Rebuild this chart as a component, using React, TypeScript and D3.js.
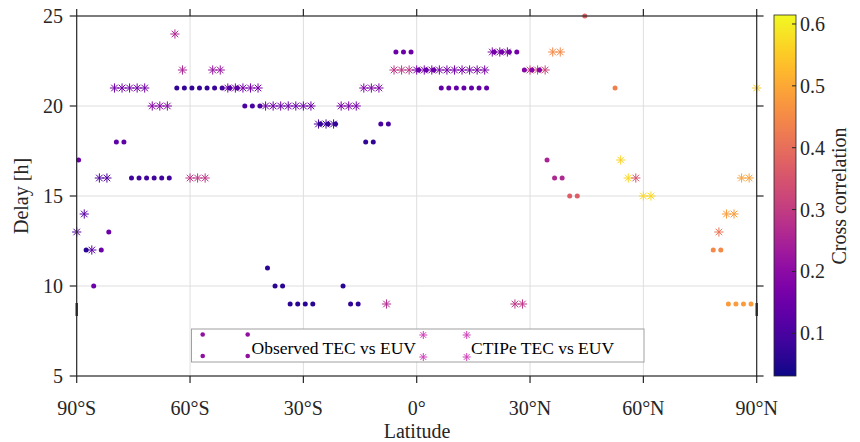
import React from "react";
import * as d3 from "d3";

// Observed TEC vs EUV (dots)
const obsLat = [-89.5, -87.5, -85.5, -83.5, -81.5, -79.5, -77.5,
  -75.5, -73.5, -71.5, -69.5, -67.5, -65.5,
  -63.5, -61.5, -59.5, -57.5, -55.5, -53.5, -51.5, -49.5, -47.5,
  -45.5, -43.5, -41.5, -39.5, -37.5, -35.5, -33.5, -31.5, -29.5, -27.5,
  -25.5, -23.5, -21.5, -19.5, -17.5, -15.5, -13.5, -11.5, -9.5, -7.5,
  -5.5, -3.5, -1.5, 0.5, 2.5, 4.5,
  6.5, 8.5, 10.5, 12.5, 14.5, 16.5, 18.5,
  20.5, 22.5, 24.5, 26.5, 28.5, 30.5, 32.5,
  34.5, 36.5, 38.5, 40.5, 42.5, 44.5, 52.5,
  78.5, 80.5, 82.5, 84.5, 86.5, 88.5];
const obsDelay = [17, 12, 10, 12, 13, 18, 18,
  16, 16, 16, 16, 16, 16,
  21, 21, 21, 21, 21, 21, 21, 21, 21,
  20, 20, 20, 11, 10, 10, 9, 9, 9, 9,
  19, 19, 19, 10, 9, 9, 18, 18, 19, 19,
  23, 23, 23, 22, 22, 22,
  21, 21, 21, 21, 21, 21, 21,
  23, 23, 23, 23, 22, 22, 22,
  17, 16, 16, 15, 15, 25, 21,
  12, 12, 9, 9, 9, 9];
const obsCorr = [0.15, 0.06, 0.15, 0.15, 0.15, 0.13, 0.13,
  0.09, 0.09, 0.09, 0.09, 0.09, 0.09,
  0.07, 0.07, 0.07, 0.07, 0.07, 0.08, 0.09, 0.11, 0.12,
  0.1, 0.1, 0.1, 0.06, 0.06, 0.06, 0.06, 0.06, 0.06, 0.06,
  0.07, 0.07, 0.07, 0.06, 0.07, 0.07, 0.07, 0.07, 0.1, 0.1,
  0.15, 0.15, 0.15, 0.15, 0.15, 0.15,
  0.14, 0.14, 0.14, 0.14, 0.14, 0.14, 0.14,
  0.16, 0.16, 0.16, 0.16, 0.19, 0.19, 0.19,
  0.25, 0.26, 0.26, 0.37, 0.37, 0.38, 0.43,
  0.45, 0.45, 0.48, 0.48, 0.48, 0.48];

// CTIPe TEC vs EUV (asterisks)
const ctiLat = [-90, -88, -86, -84, -82,
  -80, -78, -76, -74, -72, -70, -68, -66,
  -64, -62, -60, -58, -56, -54, -52,
  -50, -48, -46, -44, -42,
  -40, -38, -36, -34, -32, -30, -28,
  -26, -24, -22, -20, -18, -16, -14, -12, -10,
  -8, -6, -4, -2,
  0, 2, 4, 6, 8, 10, 12, 14, 16, 18,
  20, 22, 24, 26, 28, 30, 32, 34, 36, 38,
  54, 56, 58, 60, 62, 80, 82, 84, 86, 88, 90];
const ctiDelay = [13, 14, 12, 16, 16,
  21, 21, 21, 21, 21, 20, 20, 20,
  24, 22, 16, 16, 16, 22, 22,
  21, 21, 21, 21, 21,
  20, 20, 20, 20, 20, 20, 20,
  19, 19, 19, 20, 20, 20, 21, 21, 21,
  9, 22, 22, 22,
  22, 22, 22, 22, 22, 22, 22, 22, 22, 22,
  23, 23, 23, 9, 9, 22, 22, 22, 23, 23,
  17, 16, 16, 15, 15, 13, 14, 14, 16, 16, 21];
const ctiCorr = [0.12, 0.12, 0.12, 0.11, 0.11,
  0.16, 0.16, 0.16, 0.16, 0.16, 0.19, 0.19, 0.19,
  0.26, 0.25, 0.29, 0.29, 0.29, 0.22, 0.22,
  0.17, 0.17, 0.17, 0.17, 0.17,
  0.15, 0.15, 0.15, 0.15, 0.15, 0.15, 0.15,
  0.1, 0.1, 0.1, 0.17, 0.17, 0.17, 0.18, 0.18, 0.18,
  0.27, 0.29, 0.29, 0.29,
  0.17, 0.17, 0.17, 0.17, 0.17, 0.17, 0.17, 0.17, 0.17, 0.17,
  0.18, 0.18, 0.18, 0.29, 0.29, 0.32, 0.32, 0.32, 0.45, 0.45,
  0.56, 0.57, 0.35, 0.57, 0.57, 0.41, 0.48, 0.48, 0.49, 0.49, 0.55];

const xTicks = [-90, -60, -30, 0, 30, 60, 90];
const xTickLabels = ["90°S", "60°S", "30°S", "0°", "30°N", "60°N", "90°N"];
const yTicks = [5, 10, 15, 20, 25];
const cTicks = [0.1, 0.2, 0.3, 0.4, 0.5, 0.6];
const cDomain = [0.031, 0.6145];

const FONT = "Liberation Serif, Times New Roman, serif";

export default function App() {
  const x = d3.scaleLinear().domain([-90, 90]).range([76.7, 756.7]);
  const y = d3.scaleLinear().domain([5, 25]).range([376, 16]);
  const cy = d3.scaleLinear().domain(cDomain).range([376, 15]);
  const color = (v: number) =>
    d3.interpolatePlasma((v - cDomain[0]) / (cDomain[1] - cDomain[0]));

  const star = (cx: number, cyy: number, c: string, key: string, s = 4.6) => {
    const d = s * 0.7071;
    return (
      <g key={key} stroke={c} strokeWidth={1} fill="none">
        <line x1={cx - s} y1={cyy} x2={cx + s} y2={cyy} />
        <line x1={cx} y1={cyy - s} x2={cx} y2={cyy + s} />
        <line x1={cx - d} y1={cyy - d} x2={cx + d} y2={cyy + d} />
        <line x1={cx - d} y1={cyy + d} x2={cx + d} y2={cyy - d} />
      </g>
    );
  };

  const stops = d3.range(0, 1.0001, 0.05).map((t) => ({
    off: t,
    c: d3.interpolatePlasma(t),
  }));

  const L = 76.7, R = 756.7, T = 16, B = 376;

  return (
    <svg width={860} height={442} style={{ position: "absolute", left: 0, top: 0, background: "#fff" }}
      fontFamily={FONT}>
      <defs>
        <linearGradient id="cb" x1="0" y1="1" x2="0" y2="0">
          {stops.map((s, i) => (
            <stop key={i} offset={s.off} stopColor={s.c} />
          ))}
        </linearGradient>
      </defs>
      <rect x={0} y={0} width={860} height={442} fill="#fff" />
      {/* grid */}
      {xTicks.slice(1, -1).map((t) => (
        <line key={"gx" + t} x1={x(t)} x2={x(t)} y1={T} y2={B} stroke="#dedede" strokeWidth={1} />
      ))}
      {yTicks.slice(1, -1).map((t) => (
        <line key={"gy" + t} x1={L} x2={R} y1={y(t)} y2={y(t)} stroke="#dedede" strokeWidth={1} />
      ))}
      {/* CTIPe asterisks */}
      {ctiLat.map((lat, i) => star(x(lat), y(ctiDelay[i]), color(ctiCorr[i]), "c" + i))}
      {/* Observed dots */}
      {obsLat.map((lat, i) => (
        <circle key={"o" + i} cx={x(lat)} cy={y(obsDelay[i])} r={2.5} fill={color(obsCorr[i])} />
      ))}
      {/* axes box */}
      <rect x={L} y={T} width={R - L} height={B - T} fill="none" stroke="#262626" strokeWidth={1.2} />
      <line x1={L} x2={L} y1={303} y2={316} stroke="#262626" strokeWidth={2.4} />
      <line x1={R} x2={R} y1={303} y2={316} stroke="#262626" strokeWidth={2.4} />
      {xTicks.map((t) => (
        <g key={"xt" + t}>
          <line x1={x(t)} x2={x(t)} y1={B} y2={B + 7} stroke="#262626" strokeWidth={1.2} />
          <line x1={x(t)} x2={x(t)} y1={T} y2={T - 7} stroke="#262626" strokeWidth={1.2} />
        </g>
      ))}
      {yTicks.map((t) => (
        <g key={"yt" + t}>
          <line x1={L} x2={L - 7} y1={y(t)} y2={y(t)} stroke="#262626" strokeWidth={1.2} />
          <line x1={R} x2={R + 7} y1={y(t)} y2={y(t)} stroke="#262626" strokeWidth={1.2} />
        </g>
      ))}
      {xTicks.map((t, i) => (
        <text key={"xl" + t} x={x(t)} y={415} textAnchor="middle" fontSize={20} fill="#262626">
          {xTickLabels[i]}
        </text>
      ))}
      {yTicks.map((t) => (
        <text key={"yl" + t} x={63} y={y(t)} dy="0.35em" textAnchor="end" fontSize={20} fill="#262626">
          {t}
        </text>
      ))}
      <text x={417} y={438} textAnchor="middle" fontSize={20} fill="#262626">Latitude</text>
      <text transform={`translate(28,196) rotate(-90)`} textAnchor="middle" fontSize={20} fill="#262626">
        Delay [h]
      </text>
      {/* legend */}
      <rect x={191.5} y={329} width={452.5} height={33} fill="#fff" stroke="#a0a0a0" strokeWidth={1} />
      <circle cx={202.7} cy={334.5} r={2.3} fill="#9010a0" />
      <circle cx={202.7} cy={356} r={2.3} fill="#9010a0" />
      <circle cx={247.7} cy={334.5} r={2.3} fill="#9010a0" />
      <circle cx={247.7} cy={356} r={2.3} fill="#9010a0" />
      <text x={251.5} y={348} dy="0.35em" fontSize={17.5} fill="#000">Observed TEC vs EUV</text>
      {star(423.3, 335, "#d040b8", "l1", 4)}
      {star(423.3, 357, "#d040b8", "l2", 4)}
      {star(466.7, 335, "#d040b8", "l3", 4)}
      {star(466.7, 357, "#d040b8", "l4", 4)}
      <text x={471} y={348} dy="0.35em" fontSize={17.5} fill="#000">CTIPe TEC vs EUV</text>
      {/* colorbar */}
      <rect x={774} y={15} width={22} height={361} fill="url(#cb)" stroke="#262626" strokeWidth={0.8} />
      {cTicks.map((t) => (
        <g key={"ct" + t}>
          <line x1={796} x2={792} y1={cy(t)} y2={cy(t)} stroke="#262626" strokeWidth={1} />
          <text x={800} y={cy(t)} dy="0.35em" fontSize={20} fill="#262626">{t.toFixed(1)}</text>
        </g>
      ))}
      <text transform={`translate(846,196) rotate(-90)`} textAnchor="middle" fontSize={20} fill="#262626">
        Cross correlation
      </text>
    </svg>
  );
}
